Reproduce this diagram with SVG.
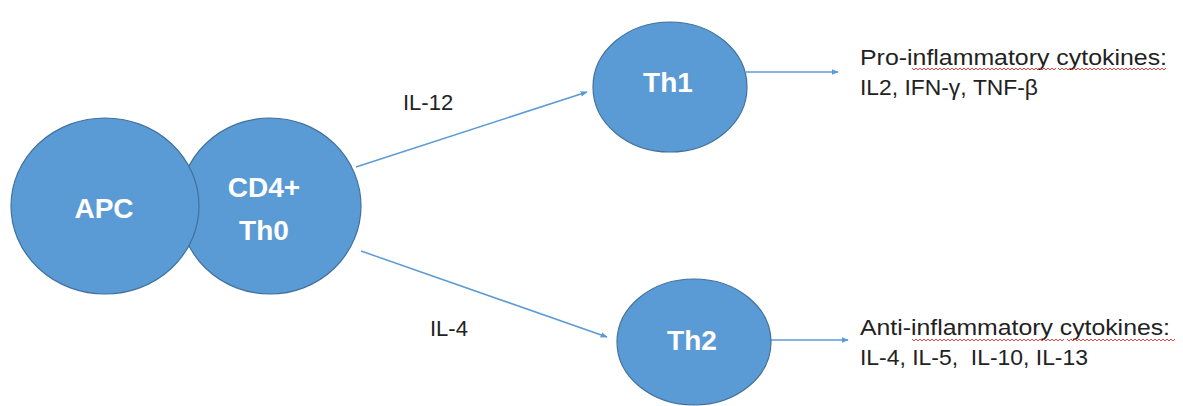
<svg xmlns="http://www.w3.org/2000/svg" width="1183" height="406" viewBox="0 0 1183 406">
<style>
.cell{fill:#5B9BD5;stroke:#41719C;stroke-width:1.2}
.nl{font-family:"Liberation Sans",Arial,sans-serif;font-weight:bold;font-size:28px;fill:#fff;text-anchor:middle}
.el{font-family:"Liberation Sans",Arial,sans-serif;font-size:22px;fill:#222}
.ct{font-family:"Liberation Sans",Arial,sans-serif;font-size:22px;fill:#222;white-space:pre}
.conn{stroke:#5B9BD5;stroke-width:1.5;fill:none;marker-end:url(#ah)}
.sq{stroke:#E03030;stroke-width:0.9;fill:none}
</style>
<defs>
<marker id="ah" viewBox="0 0 10 10" refX="9" refY="5" markerWidth="7" markerHeight="7" orient="auto" markerUnits="userSpaceOnUse">
<path d="M0,1 L10,5 L0,9 z" fill="#5B9BD5"/>
</marker>
</defs>
<rect width="1183" height="406" fill="#fff"/>
<g id="connectors">
<line class="conn" x1="356" y1="167" x2="587" y2="92"/>
<line class="conn" x1="361" y1="251" x2="607" y2="337"/>
<line class="conn" x1="746" y1="72" x2="838" y2="72"/>
<line class="conn" x1="771" y1="340" x2="848" y2="340"/>
<text class="el" x="403" y="110">IL-12</text>
<text class="el" x="430" y="336">IL-4</text>
</g>
<g id="cd4">
<ellipse class="cell" cx="270" cy="206" rx="91" ry="88"/>
<text class="nl" x="264" y="197">CD4+</text>
<text class="nl" x="264" y="240">Th0</text>
</g>
<g id="apc">
<ellipse class="cell" cx="105" cy="206" rx="94" ry="88"/>
<text class="nl" x="104" y="218">APC</text>
</g>
<g id="th1">
<ellipse class="cell" cx="670" cy="87" rx="77" ry="65"/>
<text class="nl" x="668" y="92">Th1</text>
</g>
<g id="th2">
<ellipse class="cell" cx="694" cy="342" rx="77" ry="63"/>
<text class="nl" x="692" y="350">Th2</text>
</g>
<g id="pro">
<text class="ct" x="860" y="65" textLength="307" lengthAdjust="spacingAndGlyphs">Pro-inflammatory cytokines:</text>
<text class="ct" x="860" y="95" textLength="178" lengthAdjust="spacingAndGlyphs">IL2, IFN-γ, TNF-β</text>
<path class="sq" d="M912,68 l2,2 2,-2 2,2 2,-2 2,2 2,-2 2,2 2,-2 2,2 2,-2 2,2 2,-2 2,2 2,-2 2,2 2,-2 2,2 2,-2 2,2 2,-2 2,2 2,-2 2,2 2,-2 2,2 2,-2 2,2 2,-2 2,2 2,-2 2,2 2,-2 2,2 2,-2 2,2 2,-2 2,2 2,-2 2,2 2,-2 2,2 2,-2 2,2 2,-2 2,2 2,-2 2,2 2,-2 2,2 2,-2 2,2 2,-2 2,2 2,-2 2,2 2,-2 2,2 2,-2 2,2 2,-2 2,2 2,-2 2,2 2,-2 2,2 2,-2 2,2 2,-2 2,2 2,-2 2,2 2,-2"/>
<path class="sq" d="M1058,68 l2,2 2,-2 2,2 2,-2 2,2 2,-2 2,2 2,-2 2,2 2,-2 2,2 2,-2 2,2 2,-2 2,2 2,-2 2,2 2,-2 2,2 2,-2 2,2 2,-2 2,2 2,-2 2,2 2,-2 2,2 2,-2 2,2 2,-2 2,2 2,-2 2,2 2,-2 2,2 2,-2 2,2 2,-2 2,2 2,-2 2,2 2,-2 2,2 2,-2 2,2 2,-2 2,2 2,-2 2,2 2,-2 2,2 2,-2 2,2 2,-2"/>
</g>
<g id="anti">
<text class="ct" x="860" y="335" textLength="310" lengthAdjust="spacingAndGlyphs">Anti-inflammatory cytokines:</text>
<text class="ct" x="860" y="365" textLength="228" lengthAdjust="spacingAndGlyphs" xml:space="preserve">IL-4, IL-5,  IL-10, IL-13</text>
<path class="sq" d="M912,339 l2,2 2,-2 2,2 2,-2 2,2 2,-2 2,2 2,-2 2,2 2,-2 2,2 2,-2 2,2 2,-2 2,2 2,-2 2,2 2,-2 2,2 2,-2 2,2 2,-2 2,2 2,-2 2,2 2,-2 2,2 2,-2 2,2 2,-2 2,2 2,-2 2,2 2,-2 2,2 2,-2 2,2 2,-2 2,2 2,-2 2,2 2,-2 2,2 2,-2 2,2 2,-2 2,2 2,-2 2,2 2,-2 2,2 2,-2 2,2 2,-2 2,2 2,-2 2,2 2,-2 2,2 2,-2 2,2 2,-2 2,2 2,-2 2,2 2,-2 2,2 2,-2 2,2 2,-2 2,2 2,-2 2,2 2,-2 2,2 2,-2"/>
<path class="sq" d="M1067,339 l2,2 2,-2 2,2 2,-2 2,2 2,-2 2,2 2,-2 2,2 2,-2 2,2 2,-2 2,2 2,-2 2,2 2,-2 2,2 2,-2 2,2 2,-2 2,2 2,-2 2,2 2,-2 2,2 2,-2 2,2 2,-2 2,2 2,-2 2,2 2,-2 2,2 2,-2 2,2 2,-2 2,2 2,-2 2,2 2,-2 2,2 2,-2 2,2 2,-2 2,2 2,-2 2,2 2,-2 2,2 2,-2 2,2 2,-2 2,2 2,-2"/>
</g>
</svg>
